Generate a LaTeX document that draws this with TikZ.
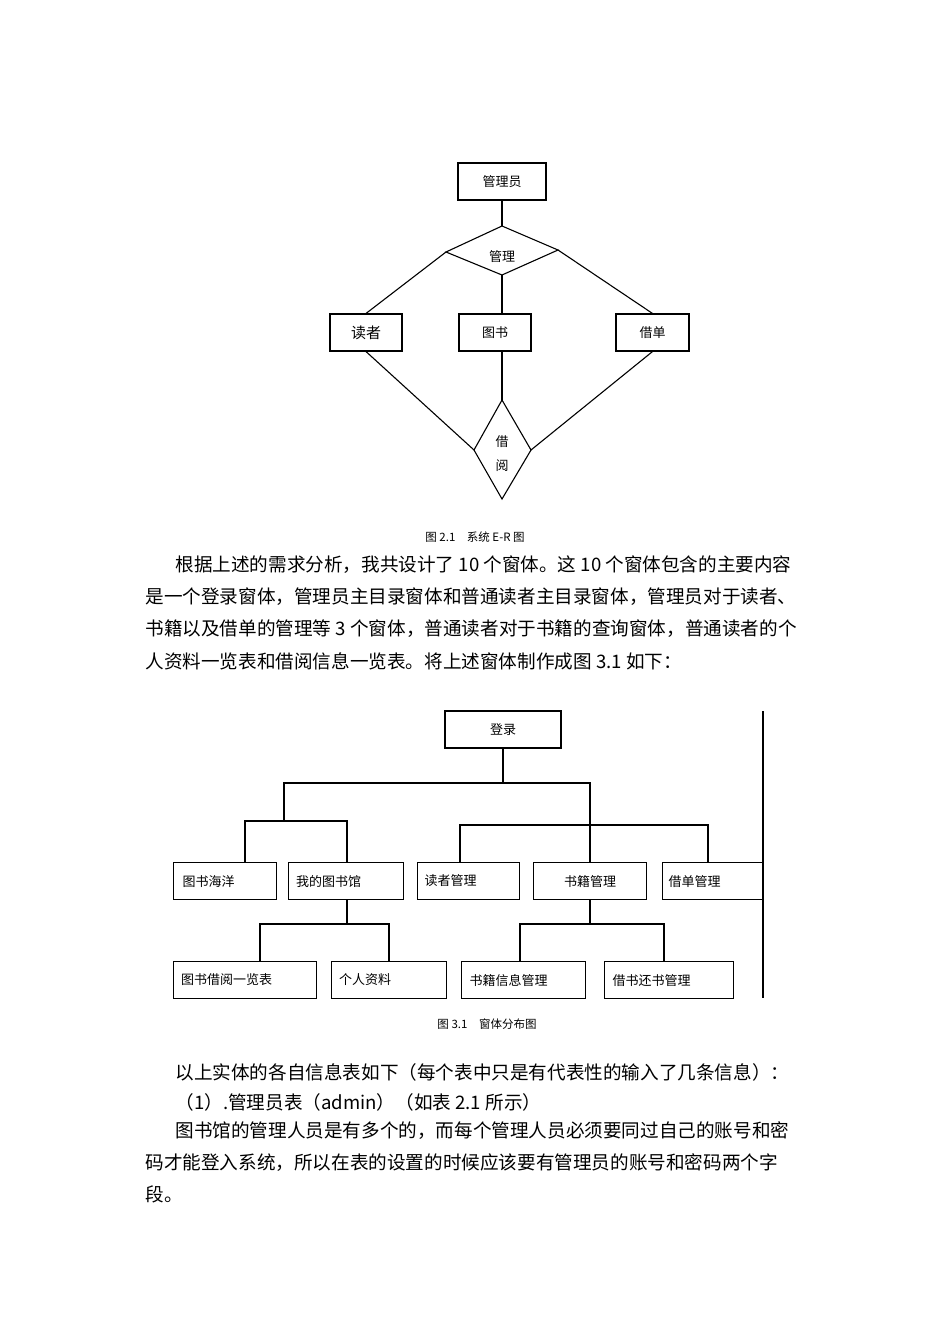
\documentclass[tikz,border=0pt]{standalone}
\usepackage{fontspec}
\setmainfont{Liberation Serif}
\newfontfamily\cjk{Noto Sans CJK SC}
\begin{document}
\begin{tikzpicture}[x=1pt,y=-1pt,line width=1.1pt,
  box/.style={draw,rectangle,inner sep=0pt,font=\cjk\fontsize{13}{13}\selectfont},
  para/.style={anchor=west,inner sep=0pt,font=\cjk\fontsize{18.6}{18.6}\selectfont},
  captxt/.style={inner sep=0pt,font=\cjk\fontsize{11.5}{11.5}\selectfont}]
\useasboundingbox[fill=white] (0,0) rectangle (950,1344);
% ER diagram
\node[box,minimum width=88pt,minimum height=37pt] (adm) at (502,181.5) {管理员};
\coordinate (gt) at (502,226); \coordinate (gl) at (446,252);
\coordinate (gr) at (558,250); \coordinate (gb) at (502,275);
\draw (gt)--(gr)--(gb)--(gl)--cycle;
\node[captxt,font=\cjk\fontsize{13}{13}\selectfont] (gl2) at (502,257) {管理};
\node[box,minimum width=72pt,minimum height=37pt] (rd) at (366,332.5) {\fontsize{15}{15}\selectfont 读者};
\node[box,minimum width=72pt,minimum height=37pt] (ts) at (495,332.5) {图书};
\node[box,minimum width=73pt,minimum height=37pt] (jd) at (652.5,332.5) {借单};
\coordinate (jt) at (502,400); \coordinate (jl) at (474,450);
\coordinate (jr) at (531,450); \coordinate (jb) at (502,499);
\draw (jt)--(jr)--(jb)--(jl)--cycle;
\node[captxt,align=center,font=\cjk\fontsize{13}{24}\selectfont] (jy) at (502,454) {借\\阅};
\draw (adm.south -| gt) -- (gt);
\draw (gl) -- (rd.north) ; 
\draw (gr) -- (jd.north);
\draw (gb) -- (gb |- ts.north);
\draw (rd.south) -- (jl);
\draw (jt |- ts.south) -- (jt);
\draw (jd.south) -- (jr);
\node[captxt] (c1) at (475,537) {图 2.1\quad 系统 E-R 图};
% paragraph
\node[para] (p1) at (175,565) {根据上述的需求分析，我共设计了 10 个窗体。这 10 个窗体包含的主要内容};
\node[para] (p2) at (145,597) {是一个登录窗体，管理员主目录窗体和普通读者主目录窗体，管理员对于读者、};
\node[para] (p3) at (145,629) {书籍以及借单的管理等 3 个窗体，普通读者对于书籍的查询窗体，普通读者的个};
\node[para] (p4) at (145,661) {人资料一览表和借阅信息一览表。将上述窗体制作成图 3.1 如下：};
% tree
\node[box,minimum width=116pt,minimum height=37pt] (dl) at (503,729.5) {登录};
\node[box,anchor=north west,minimum width=103pt,minimum height=37pt,text width=85pt] (a1) at (173,862) {图书海洋};
\node[box,anchor=north west,minimum width=115pt,minimum height=37pt,text width=100pt] (a2) at (288,862) {我的图书馆};
\node[box,anchor=north west,minimum width=102pt,minimum height=37pt,text width=88pt] (a3) at (417,862) {读者管理};
\node[box,anchor=north west,minimum width=113pt,minimum height=37pt] (a4) at (533,862) {书籍管理};
\node[box,anchor=north west,minimum width=100pt,minimum height=37pt,text width=88pt] (a5) at (662,862) {借单管理};
\node[box,anchor=north west,minimum width=143pt,minimum height=37pt,text width=128pt] (b1) at (173,961) {图书借阅一览表};
\node[box,anchor=north west,minimum width=115pt,minimum height=37pt,text width=100pt] (b2) at (331,961) {个人资料};
\node[box,anchor=north west,minimum width=124pt,minimum height=37pt,text width=108pt] (b3) at (461,961) {书籍信息管理};
\node[box,anchor=north west,minimum width=129pt,minimum height=37pt,text width=113pt] (b4) at (604,961) {借书还书管理};
\coordinate (vt) at (763,711); \coordinate (vb) at (763,998);
\draw (vt) -- (vb);
\draw (dl.south) -- (503,783);
\draw (284,821) -- (284,783) -- (590,783) -- (590,862);
\draw (245,862) -- (245,821) -- (347,821) -- (347,862);
\draw (460,862) -- (460,825) -- (708,825) -- (708,862);
\draw (347,899) -- (347,924);
\draw (260,961) -- (260,924) -- (389,924) -- (389,961);
\draw (590,899) -- (590,924);
\draw (520,961) -- (520,924) -- (664,924) -- (664,961);
\node[captxt] (c2) at (487,1024) {图 3.1\quad 窗体分布图};
\node[para] (q1) at (175,1072) {以上实体的各自信息表如下（每个表中只是有代表性的输入了几条信息）：};
\node[para] (q2) at (175,1102) {（1）.管理员表（admin）（如表 2.1 所示）};
\node[para] (q3) at (175,1131) {图书馆的管理人员是有多个的，而每个管理人员必须要同过自己的账号和密};
\node[para] (q4) at (145,1163) {码才能登入系统，所以在表的设置的时候应该要有管理员的账号和密码两个字};
\node[para] (q5) at (145,1194) {段。};
\end{tikzpicture}
\end{document}
